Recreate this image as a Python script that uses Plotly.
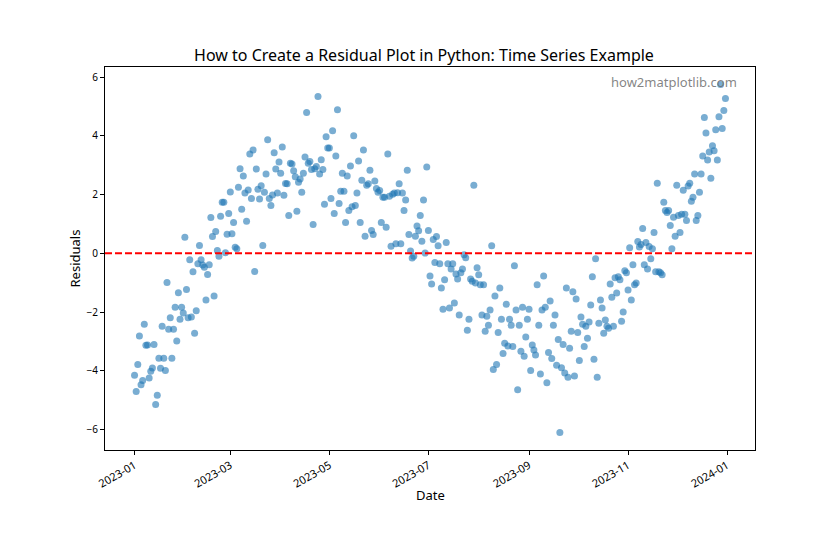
import pandas as pd
import plotly.graph_objects as go

# Daily residuals, 2023-01-01 .. 2023-12-31
res_jan_feb = [-4.15, -4.70, -3.78, -2.81, -4.47, -4.33, -2.41, -3.13, -3.12, -4.24,
               -4.01, -3.90, -3.10, -5.14, -4.83, -3.57, -3.91, -2.48, -3.57, -3.99,
               -0.99, -2.58, -2.19, -3.57, -2.58, -1.83, -2.98, -1.34, -2.24, -1.83,
               -2.03, 0.55, -1.23, -2.19, -0.22, -2.17, -0.63, -2.72, -1.95, -0.35,
               0.27, -0.22, -0.40]
res_feb_apr = [-0.47, -1.59, -0.72, -0.39, 1.22, 0.57, -1.45, 0.74, 0.10, -0.10,
               1.26, 1.74, 1.74, 0.02, 0.65, 1.36, 2.09, 0.67, 1.05, 0.21,
               0.16, 2.25, 2.88, 1.50, 2.63, 2.05, 1.09, 2.16, 3.38, 1.87,
               3.52, -0.62, 2.87, 2.18, 1.85, 2.30, 0.27, 2.08, 2.70, 3.87,
               1.87, 1.63, 1.99, 3.42, 2.87, 2.05, 3.11, 2.73, 3.62, 1.98,
               2.38, 2.37, 1.29, 3.07, 3.04, 2.81, 2.61, 1.43, 2.42, 2.53,
               2.08, 2.73, 3.28, 4.79, 3.07]
res_apr_jun = [3.13, 2.85, 0.98, 2.88, 2.96, 5.34, 2.70, 3.19, 2.85, 1.67,
               3.97, 3.59, 3.59, 1.87, 4.17, 1.36, 3.31, 4.89, 1.70, 2.11,
               2.73, 2.11, 1.05, 2.63, 1.46, 2.97, 1.59, 4.00, 1.63, 2.05,
               3.14, 1.05, 2.49, 3.52, 0.58, 2.32, 2.37, 2.83, 0.78, 0.64,
               2.46, 2.21, 2.08, 2.14, 1.05, 1.91, 1.91, 0.89, 3.38, 1.94,
               0.24, 2.01, 2.05, 0.33, 2.06, 2.37, 0.33, 2.05, 1.46, 1.82,
               2.83, 0.64, 0.08, -0.16, -0.10, 0.58]
res_jun_aug = [0.93, 0.77, 1.29, 0.41, 1.82, 0.01, 2.94, 0.78, -0.77, -1.04,
               0.47, -0.31, 0.57, 0.26, -0.35, -1.18, -1.90, -0.90, 0.37, -0.35,
               -1.86, -0.53, -0.35, -1.69, -0.70, -0.87, -2.10, -0.66, -0.53, -0.05,
               -0.15, -2.62, -2.24, -0.87, -0.95, 2.32, -1.01, -0.49, -0.73, -1.07,
               -2.10, -1.07, -2.65, -2.14, -2.45, -1.93, 0.26, -3.95, -1.45, -3.78,
               -2.69, -1.18, -2.24, -3.41, -3.06, -1.73, -3.15, -2.24, -2.45, -3.17,
               -0.42, -1.93, -4.64]
res_aug_oct = [-2.45, -3.33, -1.83, -3.50, -2.85, -2.24, -1.90, -3.99, -3.12, -3.29,
               -3.46, -1.07, -2.45, -4.11, -1.93, -0.77, -1.83, -4.40, -3.37, -1.62,
               -3.58, -2.45, -2.10, -3.81, -2.93, -6.10, -3.89, -3.10, -4.07, -1.18,
               -4.22, -3.23, -2.65, -1.31, -4.17, -1.55, -2.69, -3.65, -2.17, -2.41,
               -3.17, -2.48, -2.89, -2.34, -1.76, -0.80, -3.60, -0.18, -4.22, -2.38,
               -1.59, -1.86, -2.72, -2.27, -2.48, -2.55, -1.04, -1.49, -2.48, -0.83,
               -1.35, -0.80, -0.90, -2.31, -2.00]
res_oct_dec = [-0.59, -0.66, -1.25, 0.19, -1.59, -0.39, -1.07, -1.01, 0.40, 0.22,
               0.30, 0.85, -0.39, 0.37, -0.53, 0.23, -0.18, 0.16, 0.71, -0.63,
               2.39, -0.63, -0.66, -0.73, 1.74, 1.46, 1.39, 1.46, 0.95, 0.16,
               1.23, 0.58, 2.32, 1.29, 0.71, 1.33, 2.15, 1.33, 1.12, 2.29,
               2.39, 1.77, 1.91, 2.70, 1.12, 1.29, 2.08, 2.70, 3.31, 4.62,
               4.10, 3.18, 3.45, 2.56, 3.66, 3.49, 4.21, 3.18, 4.65, 5.75,
               4.25, 4.86, 5.27]

residuals = res_jan_feb + res_feb_apr + res_apr_jun + res_jun_aug + res_aug_oct + res_oct_dec
dates = pd.date_range("2023-01-01", periods=len(residuals), freq="D")

tick_dates = ["2023-01-01", "2023-03-01", "2023-05-01", "2023-07-01",
              "2023-09-01", "2023-11-01", "2024-01-01"]
tick_labels = ["2023-01", "2023-03", "2023-05", "2023-07", "2023-09", "2023-11", "2024-01"]
y_ticks = [-6, -4, -2, 0, 2, 4, 6]

FONT = "Noto Sans"
W, H = 832, 552  # page body adds an 8px margin

# matplotlib-like 5% margins
span_days = (dates[-1] - dates[0])
x_pad = span_days * 0.05
x_range = [dates[0] - x_pad, dates[-1] + x_pad]
ymin, ymax = min(residuals), max(residuals)
y_pad = (ymax - ymin) * 0.05
y_range = [ymin - y_pad, ymax + y_pad]

fig = go.Figure()
fig.add_trace(go.Scatter(
    x=dates, y=residuals, mode="markers",
    marker=dict(color="#1f77b4", size=7, opacity=0.6, line=dict(width=0)),
    showlegend=False,
))
fig.add_shape(type="line", xref="paper", x0=0, x1=1, yref="y", y0=0, y1=0,
              line=dict(color="red", width=2, dash="7px,3px"))

fig.add_annotation(text="how2matplotlib.com", xref="paper", yref="paper",
                   x=0.975, y=0.99, xanchor="right", yanchor="top", showarrow=False,
                   font=dict(family=FONT, size=13, color="rgba(110,110,110,0.85)"))
fig.add_annotation(text="Date", xref="paper", yref="paper",
                   x=0.5, y=-0.1175, xanchor="center", yanchor="middle", showarrow=False,
                   font=dict(family=FONT, size=13, color="black"))

fig.update_layout(
    width=W, height=H,
    margin=dict(l=97, r=85, t=59, b=110),
    paper_bgcolor="white", plot_bgcolor="white",
    font=dict(family=FONT, size=10, color="black"),
    title=dict(text="How to Create a Residual Plot in Python: Time Series Example",
               x=0.5, xanchor="center", y=1 - 47 / H, yanchor="middle",
               font=dict(family=FONT, size=16, color="black")),
)
fig.update_xaxes(
    range=x_range, tickvals=tick_dates, ticktext=tick_labels, tickangle=-30,
    tickfont=dict(size=11),
    showgrid=False, zeroline=False, showline=True, linecolor="black", linewidth=1,
    mirror=True, ticks="outside", ticklen=4, tickcolor="black",
)
fig.update_yaxes(
    range=y_range, tickvals=y_ticks, showgrid=False, zeroline=False,
    showline=True, linecolor="black", linewidth=1, mirror=True,
    ticks="outside", ticklen=4, tickcolor="black",
    title=dict(text="Residuals", font=dict(family=FONT, size=13), standoff=2),
)

fig.write_html("out.html")
